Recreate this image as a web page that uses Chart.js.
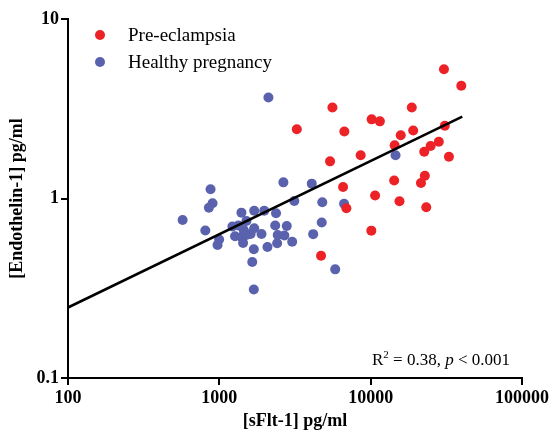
<!DOCTYPE html>
<html>
<head>
<meta charset="utf-8">
<script src="https://cdn.jsdelivr.net/npm/chart.js@4/dist/chart.umd.min.js"></script>
<style>
  body { margin: 0; background: #fff; }
</style>
</head>
<body>
<canvas id="myChart" width="552" height="433"></canvas>
<script>
// sFlt-1 (x) and Endothelin-1 (y), both pg/ml
const preX = [30500, 39700, 5590, 18700, 3250, 10150, 11500, 6700, 19100, 30900, 15800, 14400, 28200, 24900, 22600, 8590, 32900, 5390, 14300, 22800, 21500, 6570, 10700, 15500, 6910, 23300, 10100, 4700];
const preY = [5.25, 4.25, 3.21, 3.21, 2.43, 2.76, 2.69, 2.36, 2.39, 2.54, 2.25, 1.98, 2.07, 1.96, 1.82, 1.74, 1.71, 1.61, 1.26, 1.34, 1.22, 1.16, 1.04, 0.965, 0.882, 0.893, 0.662, 0.48];

const healthyX = [2110, 875, 902, 853, 572, 808, 997, 973, 1220, 1400, 1700, 1980, 2370, 2650, 4080, 3130, 4790, 6670, 14600, 1335, 1510, 1450, 1270, 1400, 1610, 1700, 1900, 1435, 1690, 2080, 1650, 1690, 2340, 2790, 2430, 2690, 2410, 3030, 4170, 4750, 5830, 1510];
const healthyY = [3.65, 1.125, 0.94, 0.889, 0.759, 0.664, 0.591, 0.551, 0.698, 0.834, 0.855, 0.855, 0.828, 1.23, 1.21, 0.968, 0.952, 0.934, 1.74, 0.707, 0.749, 0.668, 0.616, 0.61, 0.634, 0.682, 0.634, 0.565, 0.522, 0.537, 0.443, 0.311, 0.707, 0.703, 0.626, 0.622, 0.563, 0.574, 0.633, 0.735, 0.403, 0.626];

// regression line ends
const fitX = [100, 40300];
const fitY = [0.247, 2.86];

const xTicks = [100, 1000, 10000, 100000];
const yTicks = [0.1, 1, 10];

const seriesNames = ['Pre-eclampsia', 'Healthy pregnancy'];
const seriesColors = ['#ec2227', '#5a62ad'];

function pairs(xs, ys) {
    let out = [];
    for (let i = 0; i < xs.length; i++) {
        out.push({x: xs[i], y: ys[i]});
    }
    return out;
}

const serif = '"Liberation Serif", "Times New Roman", serif';

// legend inside the plot + R2 note
const notes = {
    id: 'notes',
    afterDraw(chart) {
        const ctx = chart.ctx;
        const area = chart.chartArea;
        ctx.save();
        ctx.textBaseline = 'middle';
        ctx.font = '19px ' + serif;
        for (let i = 0; i < seriesNames.length; i++) {
            let y = area.top + 16 + i * 27;
            ctx.fillStyle = seriesColors[i];
            ctx.beginPath();
            ctx.arc(area.left + 32, y, 5, 0, Math.PI * 2);
            ctx.fill();
            ctx.fillStyle = '#000';
            ctx.fillText(seriesNames[i], area.left + 60, y + 1);
        }

        // R² = 0.38, p < 0.001
        ctx.textBaseline = 'alphabetic';
        const parts = [
            {t: 'R', f: '17px ' + serif, dy: 0},
            {t: '2', f: '11px ' + serif, dy: -7},
            {t: ' = 0.38, ', f: '17px ' + serif, dy: 0},
            {t: 'p', f: 'italic 17px ' + serif, dy: 0},
            {t: ' < 0.001', f: '17px ' + serif, dy: 0}
        ];
        let total = 0;
        parts.forEach(p => { ctx.font = p.f; total += ctx.measureText(p.t).width; });
        let x = area.right - 12 - total;
        const base = area.bottom - 13;
        parts.forEach(p => {
            ctx.font = p.f;
            ctx.fillText(p.t, x, base + p.dy);
            x += ctx.measureText(p.t).width;
        });
        ctx.restore();
    }
};

var ctx = document.getElementById('myChart').getContext('2d');
var chart = new Chart(ctx, {
    type: 'scatter',
    data: {
        datasets: [{
            label: 'fit',
            type: 'line',
            data: pairs(fitX, fitY),
            borderColor: '#000',
            borderWidth: 2.5,
            pointRadius: 0,
            fill: false,
            order: 0
        }, {
            label: seriesNames[0],
            data: pairs(preX, preY),
            backgroundColor: seriesColors[0],
            borderWidth: 0,
            pointRadius: 5,
            order: 1
        }, {
            label: seriesNames[1],
            data: pairs(healthyX, healthyY),
            backgroundColor: seriesColors[1],
            borderWidth: 0,
            pointRadius: 5,
            order: 2
        }]
    },
    options: {
        responsive: false,
        animation: false,
        devicePixelRatio: 1,
        layout: {padding: {left: 0, top: 19, right: 29, bottom: 0}},
        plugins: {
            legend: {display: false},
            tooltip: {enabled: false}
        },
        scales: {
            x: {
                type: 'logarithmic',
                min: 100,
                max: 100000,
                afterBuildTicks: (axis) => { axis.ticks = xTicks.map(v => ({value: v})); },
                afterFit: (axis) => { axis.height = 55; },
                ticks: {
                    color: '#000',
                    padding: 3,
                    maxRotation: 0,
                    font: {family: serif, size: 18, weight: 'bold'},
                    callback: (v) => String(v)
                },
                grid: {drawOnChartArea: false, tickLength: 7, color: '#000', lineWidth: 2},
                border: {color: '#000', width: 2},
                title: {
                    display: true,
                    text: '[sFlt-1] pg/ml',
                    color: '#000',
                    padding: {top: 0, bottom: 1},
                    font: {family: serif, size: 18, weight: 'bold'}
                }
            },
            y: {
                type: 'logarithmic',
                min: 0.1,
                max: 10,
                afterBuildTicks: (axis) => { axis.ticks = yTicks.map(v => ({value: v})); },
                afterFit: (axis) => { axis.width = 68; },
                ticks: {
                    color: '#000',
                    padding: 2,
                    font: {family: serif, size: 18, weight: 'bold'},
                    callback: (v) => String(v)
                },
                grid: {drawOnChartArea: false, tickLength: 7, color: '#000', lineWidth: 2},
                border: {color: '#000', width: 2},
                title: {
                    display: true,
                    text: '[Endothelin-1] pg/ml',
                    color: '#000',
                    padding: {top: 7, bottom: 0},
                    font: {family: serif, size: 18, weight: 'bold'}
                }
            }
        }
    },
    plugins: [notes]
});
</script>
</body>
</html>
